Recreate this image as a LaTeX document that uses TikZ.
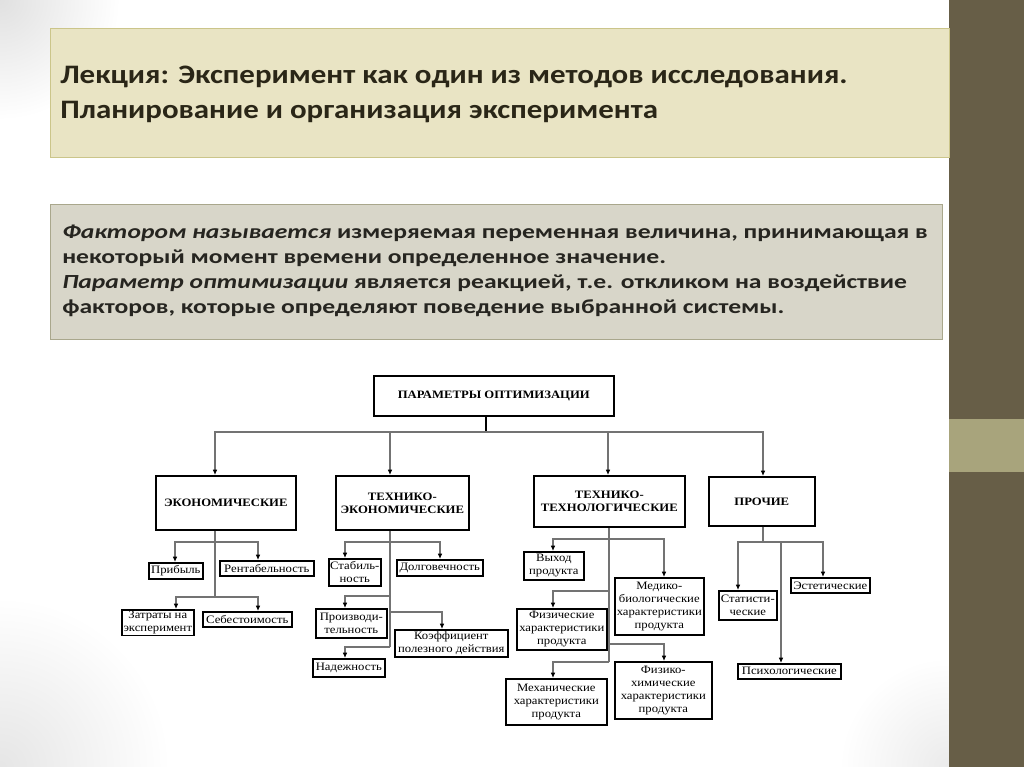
\documentclass[tikz,border=0pt]{standalone}
\usepackage{fontspec}
\setmainfont{Carlito}
\newfontfamily\slidefont[FakeStretch=1.28]{Carlito}
\newfontfamily\titlefont[FakeStretch=1.16]{Carlito}
\newfontfamily\schemefont[FakeStretch=1.12]{Liberation Serif}
\usetikzlibrary{arrows.meta, positioning, calc}

\definecolor{bandcol}{HTML}{675E47}
\definecolor{bandlight}{HTML}{A8A47C}
\definecolor{titlefill}{HTML}{E9E4C4}
\definecolor{titleedge}{HTML}{CBC58A}
\definecolor{titletext}{HTML}{2A2617}
\definecolor{deffill}{HTML}{D8D6C9}
\definecolor{defedge}{HTML}{A9A78C}
\definecolor{deftext}{HTML}{262520}

\begin{document}
\begin{tikzpicture}[x=0.75pt, y=-0.75pt,
  sz/.style 2 args={minimum width=#1*0.75pt, minimum height=#2*0.75pt},
  hdr/.style={draw, line width=1.2pt, fill=white, align=center, inner sep=1pt,
              anchor=north west, font=\schemefont\bfseries\fontsize{8.5}{9.75}\selectfont},
  leaf/.style={draw, line width=1.2pt, fill=white, align=center, inner sep=1pt,
               anchor=north west, font=\schemefont\fontsize{8.5}{9.75}\selectfont},
  ln/.style={draw=black!55, line width=0.9pt},
  arr/.style={ln, -{Latex[length=4pt, width=3.5pt, color=black]}}]

\useasboundingbox (0,0) rectangle (1024,767);

% -----------------------------------------------------
%  slide background
% -----------------------------------------------------
\fill[white] (0,0) rectangle (1024,767);
\begin{scope}
  \clip (0,0) rectangle (949,767);
  \shade[inner color=black!12, outer color=white] (0,0) circle (120);
  \shade[inner color=black!10, outer color=white] (0,767) circle (170);
  \shade[inner color=black!8, outer color=white] (949,767) circle (110);
\end{scope}
\fill[bandcol] (949,0) rectangle (1024,767);
\fill[bandlight] (949,419) rectangle (1024,472);

% Title
\node[draw=titleedge, fill=titlefill, line width=0.8pt, anchor=north west,
      sz={899}{129}, inner sep=0pt] (ttl) at (50,28) {};
\node[anchor=west, align=left, inner sep=0pt, text=titletext,
      font=\titlefont\bfseries\fontsize{20}{26.25}\selectfont] (ttltext) at (60,94)
      {Лекция: Эксперимент как один из методов исследования.\\
       Планирование и организация эксперимента};

% Definitions
\node[draw=defedge, fill=deffill, line width=0.8pt, anchor=north west,
      sz={892}{135}, inner sep=0pt] (defbox) at (50,204) {};
\node[anchor=west, align=left, inner sep=0pt, text=deftext,
      font=\slidefont\bfseries\fontsize{15}{18.75}\selectfont] (deftext) at (62,271)
      {\textit{Фактором называется} измеряемая переменная величина, принимающая в\\
       некоторый момент времени определенное значение.\\
       \textit{Параметр оптимизации} является реакцией, т.е. откликом на воздействие\\
       факторов, которые определяют поведение выбранной системы.};

% -----------------------------------------------------
%  scheme: top and second level
% -----------------------------------------------------
\node[hdr, sz={240}{40}] (par) at (373,375) {ПАРАМЕТРЫ ОПТИМИЗАЦИИ};
\node[hdr, sz={140}{54}] (eko) at (155,475) {ЭКОНОМИЧЕСКИЕ};
\node[hdr, sz={133}{54}] (tek) at (335,475) {ТЕХНИКО-\\ЭКОНОМИЧЕСКИЕ};
\node[hdr, sz={151}{51}] (tt)  at (533,475) {ТЕХНИКО-\\ТЕХНОЛОГИЧЕСКИЕ};
\node[hdr, sz={106}{49}] (pro) at (708,476) {ПРОЧИЕ};

\coordinate (b0) at (486,432);
\draw[line width=1.5pt] (par.south -| b0) -- (b0);
\draw[arr] (b0) -| ($(eko.north west)+(60,0)$);
\draw[arr] (b0) -| ($(tek.north west)+(55,0)$);
\draw[arr] (b0) -| ($(tt.north west)+(75,0)$);
\draw[arr] (b0) -| ($(pro.north west)+(55,0)$);

% -----------------------------------------------------
%  economic
% -----------------------------------------------------
\node[leaf, sz={54}{16}] (prib) at (148,562) {Прибыль};
\node[leaf, sz={94}{15}] (rent) at (219,560) {Рентабельность};
\node[leaf, sz={72}{23}] (zatr) at (121,609) {Затраты на\\эксперимент};
\node[leaf, sz={89}{15}] (sebe) at (202,611) {Себестоимость};

\coordinate (e1) at (215,542);
\coordinate (e2) at (215,597);
\draw[ln] (eko.south -| e1) -- (e2);
\draw[arr] (e1) -| ($(prib.north west)+(27,0)$);
\draw[arr] (e1) -| ($(rent.north west)+(39,0)$);
\draw[arr] (e2) -| ($(zatr.north west)+(55,0)$);
\draw[arr] (e2) -| ($(sebe.north west)+(56,0)$);

% -----------------------------------------------------
%  technical-economic
% -----------------------------------------------------
\node[leaf, sz={52}{27}]  (stab)  at (328,558) {Стабиль-\\ность};
\node[leaf, sz={86}{16}]  (dolg)  at (396,559) {Долговечность};
\node[leaf, sz={71}{29}]  (proiz) at (315,608) {Производи-\\тельность};
\node[leaf, sz={113}{27}] (koef)  at (394,629) {Коэффициент\\полезного действия};
\node[leaf, sz={72}{18}]  (nad)   at (312,658) {Надежность};

\coordinate (k1) at (390,542);
\coordinate (k2) at (390,596);
\coordinate (k3) at (390,612);
\coordinate (k4) at (390,647);
\draw[ln] (tek.south -| k1) -- (k4);
\draw[arr] (k1) -| ($(stab.north west)+(17,0)$);
\draw[arr] (k1) -| ($(dolg.north west)+(44,0)$);
\draw[arr] (k2) -| ($(proiz.north west)+(30,0)$);
\draw[arr] (k3) -| ($(koef.north west)+(48,0)$);
\draw[arr] (k4) -| ($(nad.north west)+(33,0)$);

% -----------------------------------------------------
%  technical-technological
% -----------------------------------------------------
\node[leaf, sz={60}{28}]  (vyh)  at (523,551) {Выход\\продукта};
\node[leaf, sz={89}{57}]  (medb) at (614,577) {Медико-\\биологические\\характеристики\\продукта};
\node[leaf, sz={90}{41}]  (fiz)  at (516,608) {Физические\\характеристики\\продукта};
\node[leaf, sz={97}{57}]  (fizh) at (614,661) {Физико-\\химические\\характеристики\\продукта};
\node[leaf, sz={101}{46}] (meh)  at (505,678) {Механические\\характеристики\\продукта};

\coordinate (t1) at (609,539);
\coordinate (t2) at (609,591);
\coordinate (t3) at (609,644);
\coordinate (t4) at (609,662);
\draw[ln] (tt.south -| t1) -- (t4);
\draw[arr] (t1) -| ($(vyh.north west)+(30,0)$);
\draw[arr] (t1) -| ($(medb.north west)+(50,0)$);
\draw[arr] (t2) -| ($(fiz.north west)+(37,0)$);
\draw[arr] (t3) -| ($(fizh.north west)+(50,0)$);
\draw[arr] (t4) -| ($(meh.north west)+(48,0)$);

% -----------------------------------------------------
%  other
% -----------------------------------------------------
\node[leaf, sz={58}{29}]  (stat) at (718,590) {Статисти-\\ческие};
\node[leaf, sz={79}{15}]  (est)  at (790,577) {Эстетические};
\node[leaf, sz={103}{15}] (psih) at (737,663) {Психологические};

\coordinate (q1) at (763,542);
\draw[ln] (pro.south -| q1) -- (q1);
\draw[arr] (q1) -| ($(stat.north west)+(20,0)$);
\draw[arr] (q1) -| ($(est.north west)+(33,0)$);
\draw[arr] (q1) -| ($(psih.north west)+(44,0)$);

\end{tikzpicture}
\end{document}
